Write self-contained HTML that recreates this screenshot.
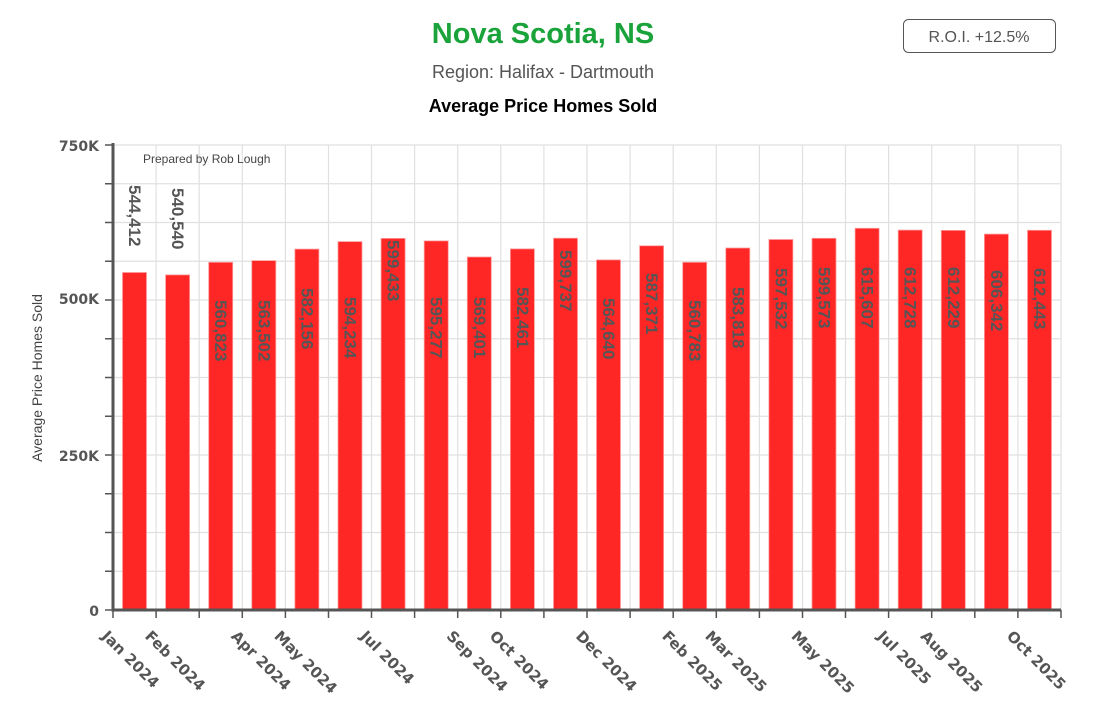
<!DOCTYPE html>
<html><head><meta charset="utf-8"><style>
html,body{margin:0;padding:0;background:#fff;}
svg{display:block;}
</style></head><body>
<svg width="1093" height="712" xmlns="http://www.w3.org/2000/svg">
<text x="543" y="43" text-anchor="middle" font-family="Liberation Sans, sans-serif" font-size="29" font-weight="bold" fill="#1aa33a">Nova Scotia, NS</text>
<text x="543" y="78" text-anchor="middle" font-family="Liberation Sans, sans-serif" font-size="18" fill="#555">Region: Halifax - Dartmouth</text>
<text x="543" y="112" text-anchor="middle" font-family="Liberation Sans, sans-serif" font-size="18" font-weight="bold" fill="#000">Average Price Homes Sold</text>
<rect x="903.5" y="19.5" width="152" height="33" rx="5" fill="#fff" stroke="#555" stroke-width="1"/>
<text x="979" y="42" text-anchor="middle" font-family="Liberation Sans, sans-serif" font-size="16" fill="#555">R.O.I. +12.5%</text>
<g stroke="#e0e0e0" stroke-width="1.2">
<line x1="113" x2="1061" y1="145" y2="145"/><line x1="113" x2="1061" y1="183.75" y2="183.75"/><line x1="113" x2="1061" y1="222.5" y2="222.5"/><line x1="113" x2="1061" y1="261.25" y2="261.25"/><line x1="113" x2="1061" y1="300" y2="300"/><line x1="113" x2="1061" y1="338.75" y2="338.75"/><line x1="113" x2="1061" y1="377.5" y2="377.5"/><line x1="113" x2="1061" y1="416.25" y2="416.25"/><line x1="113" x2="1061" y1="455" y2="455"/><line x1="113" x2="1061" y1="493.75" y2="493.75"/><line x1="113" x2="1061" y1="532.5" y2="532.5"/><line x1="113" x2="1061" y1="571.25" y2="571.25"/>
<line x1="156.1" x2="156.1" y1="145" y2="610"/><line x1="199.2" x2="199.2" y1="145" y2="610"/><line x1="242.3" x2="242.3" y1="145" y2="610"/><line x1="285.4" x2="285.4" y1="145" y2="610"/><line x1="328.5" x2="328.5" y1="145" y2="610"/><line x1="371.5" x2="371.5" y1="145" y2="610"/><line x1="414.6" x2="414.6" y1="145" y2="610"/><line x1="457.7" x2="457.7" y1="145" y2="610"/><line x1="500.8" x2="500.8" y1="145" y2="610"/><line x1="543.9" x2="543.9" y1="145" y2="610"/><line x1="587" x2="587" y1="145" y2="610"/><line x1="630.1" x2="630.1" y1="145" y2="610"/><line x1="673.2" x2="673.2" y1="145" y2="610"/><line x1="716.3" x2="716.3" y1="145" y2="610"/><line x1="759.4" x2="759.4" y1="145" y2="610"/><line x1="802.5" x2="802.5" y1="145" y2="610"/><line x1="845.5" x2="845.5" y1="145" y2="610"/><line x1="888.6" x2="888.6" y1="145" y2="610"/><line x1="931.7" x2="931.7" y1="145" y2="610"/><line x1="974.8" x2="974.8" y1="145" y2="610"/><line x1="1017.9" x2="1017.9" y1="145" y2="610"/><line x1="1061" x2="1061" y1="145" y2="610"/>
</g>
<g fill="#ff2626" stroke="#ff9a9a" stroke-width="0.8">
<rect x="122.5" y="272.5" width="24" height="337.5"/>
<rect x="165.6" y="274.9" width="24" height="335.1"/>
<rect x="208.7" y="262.3" width="24" height="347.7"/>
<rect x="251.8" y="260.6" width="24" height="349.4"/>
<rect x="294.9" y="249.1" width="24" height="360.9"/>
<rect x="338" y="241.6" width="24" height="368.4"/>
<rect x="381.1" y="238.4" width="24" height="371.6"/>
<rect x="424.2" y="240.9" width="24" height="369.1"/>
<rect x="467.3" y="257" width="24" height="353"/>
<rect x="510.4" y="248.9" width="24" height="361.1"/>
<rect x="553.5" y="238.2" width="24" height="371.8"/>
<rect x="596.5" y="259.9" width="24" height="350.1"/>
<rect x="639.6" y="245.8" width="24" height="364.2"/>
<rect x="682.7" y="262.3" width="24" height="347.7"/>
<rect x="725.8" y="248" width="24" height="362"/>
<rect x="768.9" y="239.5" width="24" height="370.5"/>
<rect x="812" y="238.3" width="24" height="371.7"/>
<rect x="855.1" y="228.3" width="24" height="381.7"/>
<rect x="898.2" y="230.1" width="24" height="379.9"/>
<rect x="941.3" y="230.4" width="24" height="379.6"/>
<rect x="984.4" y="234.1" width="24" height="375.9"/>
<rect x="1027.5" y="230.3" width="24" height="379.7"/>
</g>
<g font-family="Liberation Sans, sans-serif" font-size="17" font-weight="bold" fill="#555" dominant-baseline="central">
<text x="134.5" y="185" transform="rotate(90 134.5 185)">544,412</text>
<text x="177.6" y="188" transform="rotate(90 177.6 188)">540,540</text>
<text x="220.7" y="300" transform="rotate(90 220.7 300)">560,823</text>
<text x="263.8" y="300" transform="rotate(90 263.8 300)">563,502</text>
<text x="306.9" y="288" transform="rotate(90 306.9 288)">582,156</text>
<text x="350" y="297" transform="rotate(90 350 297)">594,234</text>
<text x="393.1" y="240" transform="rotate(90 393.1 240)">599,433</text>
<text x="436.2" y="297" transform="rotate(90 436.2 297)">595,277</text>
<text x="479.3" y="297" transform="rotate(90 479.3 297)">569,401</text>
<text x="522.4" y="287" transform="rotate(90 522.4 287)">582,461</text>
<text x="565.5" y="250" transform="rotate(90 565.5 250)">599,737</text>
<text x="608.5" y="298" transform="rotate(90 608.5 298)">564,640</text>
<text x="651.6" y="273" transform="rotate(90 651.6 273)">587,371</text>
<text x="694.7" y="300" transform="rotate(90 694.7 300)">560,783</text>
<text x="737.8" y="287" transform="rotate(90 737.8 287)">583,818</text>
<text x="780.9" y="268" transform="rotate(90 780.9 268)">597,532</text>
<text x="824" y="267" transform="rotate(90 824 267)">599,573</text>
<text x="867.1" y="267" transform="rotate(90 867.1 267)">615,607</text>
<text x="910.2" y="267" transform="rotate(90 910.2 267)">612,728</text>
<text x="953.3" y="267" transform="rotate(90 953.3 267)">612,229</text>
<text x="996.4" y="270" transform="rotate(90 996.4 270)">606,342</text>
<text x="1039.5" y="268" transform="rotate(90 1039.5 268)">612,443</text>
</g>
<text x="143" y="163" font-family="Liberation Sans, sans-serif" font-size="12" fill="#444">Prepared by Rob Lough</text>
<g stroke="#555" stroke-width="1.5">
<line x1="105" x2="113" y1="145" y2="145"/><line x1="105" x2="113" y1="183.75" y2="183.75"/><line x1="105" x2="113" y1="222.5" y2="222.5"/><line x1="105" x2="113" y1="261.25" y2="261.25"/><line x1="105" x2="113" y1="300" y2="300"/><line x1="105" x2="113" y1="338.75" y2="338.75"/><line x1="105" x2="113" y1="377.5" y2="377.5"/><line x1="105" x2="113" y1="416.25" y2="416.25"/><line x1="105" x2="113" y1="455" y2="455"/><line x1="105" x2="113" y1="493.75" y2="493.75"/><line x1="105" x2="113" y1="532.5" y2="532.5"/><line x1="105" x2="113" y1="571.25" y2="571.25"/><line x1="105" x2="113" y1="610" y2="610"/>
<line x1="113" x2="113" y1="610" y2="618"/><line x1="156.1" x2="156.1" y1="610" y2="618"/><line x1="199.2" x2="199.2" y1="610" y2="618"/><line x1="242.3" x2="242.3" y1="610" y2="618"/><line x1="285.4" x2="285.4" y1="610" y2="618"/><line x1="328.5" x2="328.5" y1="610" y2="618"/><line x1="371.5" x2="371.5" y1="610" y2="618"/><line x1="414.6" x2="414.6" y1="610" y2="618"/><line x1="457.7" x2="457.7" y1="610" y2="618"/><line x1="500.8" x2="500.8" y1="610" y2="618"/><line x1="543.9" x2="543.9" y1="610" y2="618"/><line x1="587" x2="587" y1="610" y2="618"/><line x1="630.1" x2="630.1" y1="610" y2="618"/><line x1="673.2" x2="673.2" y1="610" y2="618"/><line x1="716.3" x2="716.3" y1="610" y2="618"/><line x1="759.4" x2="759.4" y1="610" y2="618"/><line x1="802.5" x2="802.5" y1="610" y2="618"/><line x1="845.5" x2="845.5" y1="610" y2="618"/><line x1="888.6" x2="888.6" y1="610" y2="618"/><line x1="931.7" x2="931.7" y1="610" y2="618"/><line x1="974.8" x2="974.8" y1="610" y2="618"/><line x1="1017.9" x2="1017.9" y1="610" y2="618"/><line x1="1061" x2="1061" y1="610" y2="618"/>
</g>
<line x1="113" x2="113" y1="143" y2="611.5" stroke="#555" stroke-width="3"/>
<line x1="111.5" x2="1061" y1="610" y2="610" stroke="#555" stroke-width="3"/>
<text transform="translate(42,378) rotate(-90)" text-anchor="middle" font-family="Liberation Sans, sans-serif" font-size="14" fill="#444">Average Price Homes Sold</text>
<g font-family="DejaVu Sans, sans-serif" font-size="14" font-weight="bold" fill="#555" text-anchor="end">
<text x="99" y="151">750K</text>
<text x="99" y="304">500K</text>
<text x="99" y="461">250K</text>
<text x="99" y="616">0</text>
</g>
<g font-family="DejaVu Sans, sans-serif" font-size="15" font-weight="bold" fill="#555">
<text x="101" y="637" transform="rotate(45 101 637)">Jan 2024</text>
<text x="144.1" y="637" transform="rotate(45 144.1 637)">Feb 2024</text>
<text x="230.3" y="637" transform="rotate(45 230.3 637)">Apr 2024</text>
<text x="273.4" y="637" transform="rotate(45 273.4 637)">May 2024</text>
<text x="359.5" y="637" transform="rotate(45 359.5 637)">Jul 2024</text>
<text x="445.7" y="637" transform="rotate(45 445.7 637)">Sep 2024</text>
<text x="488.8" y="637" transform="rotate(45 488.8 637)">Oct 2024</text>
<text x="575" y="637" transform="rotate(45 575 637)">Dec 2024</text>
<text x="661.2" y="637" transform="rotate(45 661.2 637)">Feb 2025</text>
<text x="704.3" y="637" transform="rotate(45 704.3 637)">Mar 2025</text>
<text x="790.5" y="637" transform="rotate(45 790.5 637)">May 2025</text>
<text x="876.6" y="637" transform="rotate(45 876.6 637)">Jul 2025</text>
<text x="919.7" y="637" transform="rotate(45 919.7 637)">Aug 2025</text>
<text x="1005.9" y="637" transform="rotate(45 1005.9 637)">Oct 2025</text>
</g>
</svg>
</body></html>
